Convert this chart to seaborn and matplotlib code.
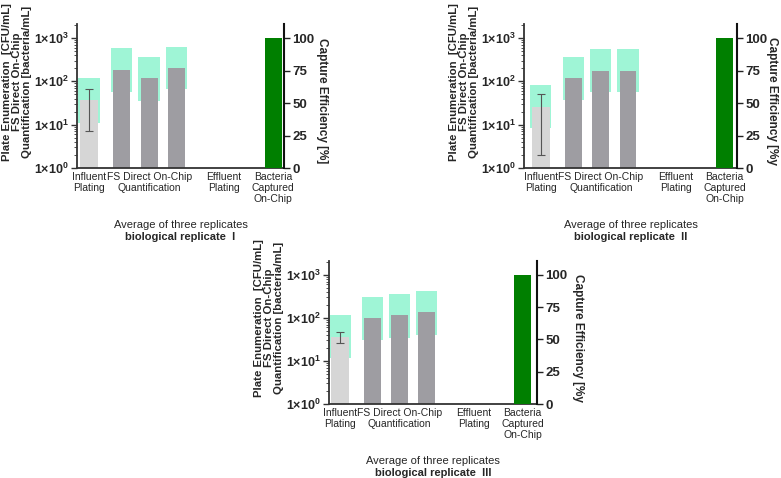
import numpy as np
import matplotlib
matplotlib.use('Agg')
import matplotlib.pyplot as plt
import seaborn as sns
from matplotlib.ticker import LogLocator, NullFormatter

# values (one entry per biological replicate)
replicates = ['I', 'II', 'III']
influent_mean = [36.5, 26, 36]
influent_sd = [29.5, 24, 10]
influent_min = [11, 8.3, 11.5]
influent_max = [118, 83, 115]
fs_mean = [[182, 117, 200], [122, 177, 177], [97, 115, 137]]
fs_min = [[58, 36, 66], [38, 58, 58], [31, 35, 41]]
fs_max = [[580, 359, 630], [372, 560, 560], [305, 352, 413]]
capture_eff = [100, 100, 100]

cat_labels = ['Influent\nPlating', 'FS Direct On-Chip\nQuantification',
              'Effluent\nPlating', 'Bacteria\nCaptured\nOn-Chip']
left_ticklabels = [r'$\mathbf{1{\times}10^{0}}$', r'$\mathbf{1{\times}10^{1}}$',
                   r'$\mathbf{1{\times}10^{2}}$', r'$\mathbf{1{\times}10^{3}}$']
right_ticks = [0, 25, 50, 75, 100]
left_title = 'Plate Enumeration  [CFU/mL]\nFS Direct On-Chip\nQuantification [bacteria/mL]'
right_titles = ['Capture Efficiency [%]', 'Capture Efficiency [%y', 'Capture Efficiency [%y']

# layout
influent_x = [0.0]
fs_x = [1.2, 2.2, 3.2]
effluent_x = 4.95
capture_x = [6.75]
label_x = [0.0, 2.2, effluent_x, capture_x[0]]

mint = '#9ff5d6'
light = '#d6d6d6'
dark = '#9e9da2'
green = '#007f00'

sns.set_style('ticks')
plt.rcParams['font.family'] = ['Liberation Sans', 'DejaVu Sans']
plt.rcParams['mathtext.fontset'] = 'custom'
plt.rcParams['mathtext.rm'] = 'Liberation Sans'
plt.rcParams['mathtext.bf'] = 'Liberation Sans:bold'

fig = plt.figure(figsize=(7.81, 4.78), dpi=100)
rects = [[0.0986, 0.6485, 0.265, 0.3013],
         [0.6709, 0.6485, 0.2727, 0.3013],
         [0.4213, 0.1548, 0.2663, 0.2992]]
xlims = [(-0.44, 7.14), (-0.62, 7.2), (-0.41, 7.28)]
right_offsets = [38, 35, 41]

for i, rect in enumerate(rects):
    ax = fig.add_axes(rect)
    ax.set_yscale('log')

    # min-max range bands behind the mean bars
    ax.bar(influent_x + fs_x,
           np.array([influent_max[i]] + fs_max[i]) - np.array([influent_min[i]] + fs_min[i]),
           bottom=[influent_min[i]] + fs_min[i], width=0.78, color=mint, linewidth=0, zorder=1)
    sns.barplot(x=influent_x, y=[influent_mean[i]], native_scale=True, color=light,
                width=0.68, saturation=1, linewidth=0, edgecolor='none', ax=ax, zorder=2)
    sns.barplot(x=fs_x, y=fs_mean[i], native_scale=True, color=dark,
                width=0.62, saturation=1, linewidth=0, edgecolor='none', ax=ax, zorder=2)
    ax.errorbar(influent_x, [influent_mean[i]], yerr=[influent_sd[i]], fmt='none',
                ecolor='#555555', elinewidth=0.8, capsize=3, capthick=0.8, zorder=5)

    ax2 = ax.twinx()
    sns.barplot(x=capture_x, y=[capture_eff[i]], native_scale=True, color=green,
                width=0.62, saturation=1, linewidth=0, edgecolor='none', ax=ax2)

    ax.set_ylim(1, 10 ** 3.323)
    ax.set_yticks([1, 10, 100, 1000])
    ax.set_yticklabels(left_ticklabels, fontsize=9)
    ax.yaxis.set_minor_locator(LogLocator(base=10, subs=np.arange(2, 10)))
    ax.yaxis.set_minor_formatter(NullFormatter())
    ax.tick_params(axis='y', which='major', length=4, width=1, color='#333333', pad=2)
    ax.tick_params(axis='y', which='minor', length=2, width=0.6, color='#333333')
    ax2.set_ylim(0, 110.8)
    ax2.set_yticks(right_ticks)
    ax2.set_yticklabels([str(t) for t in right_ticks], fontweight='bold', fontsize=9.5)
    ax2.tick_params(axis='y', length=4, width=1, color='#222222', pad=2)

    ax.set_xlim(*xlims[i])
    ax.set_xticks(label_x)
    ax.set_xticklabels(cat_labels, fontsize=7.5, linespacing=1.1)
    ax.tick_params(axis='x', length=0, pad=3)
    ax.set_xlabel('')
    ax.set_ylabel('')
    ax2.set_ylabel('')

    for s in ['top', 'right']:
        ax.spines[s].set_visible(False)
    for s in ['top', 'left', 'bottom']:
        ax2.spines[s].set_visible(False)
    ax.spines['left'].set_linewidth(1.3)
    ax.spines['left'].set_color('#333333')
    ax.spines['bottom'].set_linewidth(1.3)
    ax.spines['bottom'].set_color('#333333')
    ax2.spines['right'].set_linewidth(1.5)
    ax2.spines['right'].set_color('#111111')

    h = rect[3] * 478
    w = rect[2] * 781
    ax.text(-60 / w, 0.60, left_title, transform=ax.transAxes, rotation=90,
            ha='center', va='center', fontweight='bold', fontsize=8.2,
            linespacing=1.0, multialignment='center')
    ax2.text(1 + right_offsets[i] / w, 0.465, right_titles[i], transform=ax2.transAxes,
             rotation=270, ha='center', va='center', fontweight='bold', fontsize=8.5)
    ax.text(0.5, -57 / h, 'Average of three replicates', transform=ax.transAxes,
            ha='center', va='center', fontsize=8)
    ax.text(0.5, -69 / h, 'biological replicate  ' + replicates[i], transform=ax.transAxes,
            ha='center', va='center', fontsize=8, fontweight='bold')

fig.savefig('out.png', dpi=100)
